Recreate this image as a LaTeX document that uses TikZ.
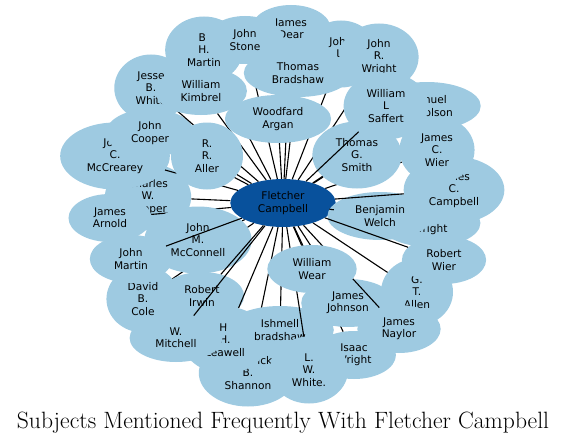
\documentclass[tikz,border=0pt]{standalone}
\usepackage{fontspec}
\usetikzlibrary{shapes.geometric}
\newfontfamily\nodefont{DejaVu Sans}
\definecolor{lb}{HTML}{9ECAE1}
\definecolor{db}{HTML}{08519C}
\tikzset{
  person/.style={ellipse, fill=lb, inner xsep=12.2pt, inner ysep=0pt, align=center,
    font=\nodefont\fontsize{10.6}{12.3}\selectfont, minimum height=48pt, minimum width=72pt},
  three/.style={inner xsep=10.55pt, minimum height=67pt},
  hub/.style={person, fill=db},
  link/.style={line width=1.1pt, black}
}
\newcommand\personnode[4]{\node[person,#1] (#2) at (#3) {#4}; \draw[link] (fc) -- (#2);}
\begin{document}
\begin{tikzpicture}[x=1pt,y=-1pt]
\useasboundingbox (0,0) rectangle (567,444);
\node[hub] (fc) at (283,203) {Fletcher\\Campbell};
\personnode{three}{bhm}{204,50}{B.\\H.\\Martin}
\personnode{}{jd}{291,29}{James\\Dear}
\personnode{}{js}{245,40}{John\\Stone}
\personnode{three}{jl}{341,54}{John\\L.\\Smith}
\personnode{three}{jrw}{379,57}{John\\R.\\Wright}
\personnode{}{tb}{298,73}{Thomas\\Bradshaw}
\personnode{three}{cwc}{148,197}{Charles\\W.\\Cooper}
\personnode{three}{jcm}{115,156}{John\\C.\\McCrearey}
\personnode{}{jco}{150,133}{John\\Cooper}
\personnode{three}{jbw}{151,88}{Jesse\\B.\\White}
\personnode{}{wk}{201,91}{William\\Kimbrel}
\personnode{three}{rra}{207,156}{R.\\R.\\Aller}
\personnode{}{ja}{110,218}{James\\Arnold}
\personnode{three}{dbc}{143,299}{David\\B.\\Cole}
\personnode{three}{jmm}{198,240}{John\\M.\\McConnell}
\personnode{}{jm}{131,259}{John\\Martin}
\personnode{}{ri}{202,296}{Robert\\Irwin}
\personnode{three}{fbs}{248,373}{Frederick\\B.\\Shannon}
\personnode{three}{hhl}{225,340}{H.\\H.\\Leawell}
\personnode{}{wm}{176,338}{W.\\Mitchell}
\personnode{}{ibs}{280,330}{Ishmell\\bradshaw}
\personnode{three}{gta}{417,292}{G.\\T.\\Allen}
\personnode{}{iw}{354,355}{Isaac\\Wright}
\personnode{}{jj}{348,303}{James\\Johnson}
\personnode{three}{lww}{309,370}{L.\\W.\\White.}
\personnode{}{jn}{399,329}{James\\Naylor}
\personnode{}{ww}{312,269}{William\\Wear}
\personnode{}{xw}{430,223}{Jonathan\\Wright}
\personnode{}{bw}{380,216}{Benjamin\\Welch}
\personnode{three}{jcc}{454,190}{James\\C.\\Campbell}
\personnode{}{rw}{444,260}{Robert\\Wier}
\personnode{}{sn}{427,106}{Samuel\\Nicholson}
\personnode{three}{jcw}{437,150}{James\\C.\\Wier}
\personnode{three}{tgs}{357,155}{Thomas\\G.\\Smith}
\personnode{}{wa}{278,119}{Woodfard\\Argan}
\personnode{three}{wls}{386,106}{William\\L\\Saffert}
\node[font=\fontsize{23.6}{26}\selectfont, anchor=base] (title) at (283,428) {Subjects Mentioned Frequently With Fletcher Campbell};
\end{tikzpicture}
\end{document}
